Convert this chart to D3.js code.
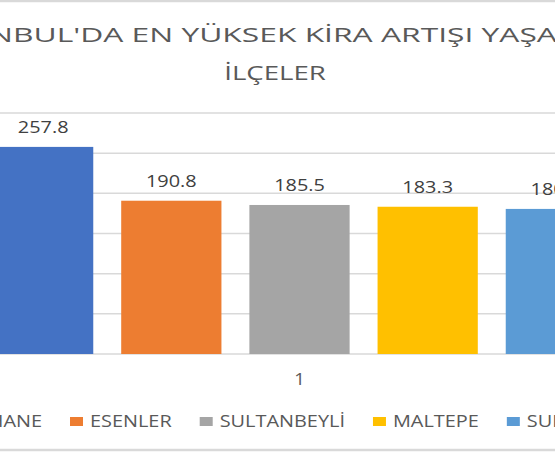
<!DOCTYPE html>
<html>
<head>
<meta charset="utf-8">
<script src="https://cdn.jsdelivr.net/npm/d3@7"></script>
<style>
  body { margin: 0; background: #fff; }
  svg { display: block; font-family: "Open Sans", sans-serif; }
</style>
</head>
<body>
<svg id="chart" width="555" height="452"></svg>
<script>
// Data
const categories = ["1"];
const districts = ["KAĞITHANE", "ESENLER", "SULTANBEYLİ", "MALTEPE", "SULTANGAZİ"];
const increases = [257.8, 190.8, 185.5, 183.3, 180.6];
const yTicks = [0, 50, 100, 150, 200, 250, 300];
const titleLines = ["İSTANBUL'DA EN YÜKSEK KİRA ARTIŞI YAŞANAN", "İLÇELER"];

const colors = ["#4472C4", "#ED7D31", "#A5A5A5", "#FFC000", "#5B9BD5"];

// the source picture is stretched sideways, so text gets a horizontal scale
const textStretch = 1.17;
const titleStretch = [1.59, 1.38];

const svg = d3.select("#chart");

// chart area border (only top and bottom edges show in the crop)
svg.append("rect")
  .attr("x", -200).attr("y", 1)
  .attr("width", 1000).attr("height", 449)
  .attr("fill", "#fff")
  .attr("stroke", "#d9d9d9")
  .attr("stroke-width", 2.5);

// plot area runs past both edges of the window
const plotLeft = -60, plotRight = 659;
const plotTop = 113, plotBottom = 354;

const xScale = d3.scaleBand()
  .domain(categories)
  .range([plotLeft, plotRight])
  .paddingInner(0)
  .paddingOuter(0.0865);

const xSeries = d3.scaleBand()
  .domain(districts)
  .range([0, xScale.bandwidth()])
  .paddingInner(0.218)
  .paddingOuter(0);

const yScale = d3.scaleLinear().domain([0, 300]).range([plotBottom, plotTop]);

// gridlines
svg.append("g")
  .selectAll("line")
  .data(yTicks)
  .join("line")
  .attr("x1", plotLeft).attr("x2", plotRight)
  .attr("y1", d => yScale(d)).attr("y2", d => yScale(d))
  .attr("stroke", "#d9d9d9")
  .attr("stroke-width", 1.5);

// bars
const group = svg.append("g")
  .attr("transform", `translate(${xScale(categories[0])},0)`);

group.selectAll("rect")
  .data(districts)
  .join("rect")
  .attr("x", d => xSeries(d))
  .attr("y", (d, i) => yScale(increases[i]))
  .attr("width", xSeries.bandwidth())
  .attr("height", (d, i) => plotBottom - yScale(increases[i]))
  .attr("fill", (d, i) => colors[i]);

// value labels
group.selectAll("text")
  .data(districts)
  .join("text")
  .attr("transform", (d, i) =>
    `translate(${xSeries(d) + xSeries.bandwidth() / 2},${yScale(increases[i]) - 14}) scale(${textStretch},1)`)
  .attr("text-anchor", "middle")
  .attr("fill", "#404040")
  .style("font-size", "17px")
  .text((d, i) => increases[i].toFixed(1));

// category axis label
svg.append("text")
  .attr("transform", `translate(${xScale(categories[0]) + xScale.bandwidth() / 2},385) scale(${textStretch},1)`)
  .attr("text-anchor", "middle")
  .attr("fill", "#595959")
  .style("font-size", "16px")
  .text(categories[0]);

// title
svg.append("g")
  .selectAll("text")
  .data(titleLines)
  .join("text")
  .attr("transform", (d, i) => `translate(275,${i === 0 ? 42 : 80}) scale(${titleStretch[i]},1)`)
  .attr("text-anchor", "middle")
  .attr("fill", "#595959")
  .style("font-size", "20px")
  .text(d => d);

// legend, laid out from the ESENLER marker
const legend = svg.append("g");
const items = legend.selectAll("g")
  .data(districts)
  .join("g");

items.append("rect")
  .attr("width", 13).attr("height", 9)
  .attr("y", 417)
  .attr("fill", (d, i) => colors[i]);

items.append("text")
  .attr("transform", `translate(20,427) scale(${textStretch},1)`)
  .attr("fill", "#595959")
  .style("font-size", "17px")
  .text(d => d);

const widths = [];
items.each(function () {
  widths.push(d3.select(this).select("text").node().getComputedTextLength() * textStretch + 20);
});
const gap = 28;
const starts = [];
starts[1] = 70;
// walk back for the first item
starts[0] = starts[1] - gap - widths[0];
for (let i = 2; i < districts.length; i++) {
  starts[i] = starts[i - 1] + widths[i - 1] + gap;
}
items.attr("transform", (d, i) => `translate(${starts[i]},0)`);
</script>
</body>
</html>
